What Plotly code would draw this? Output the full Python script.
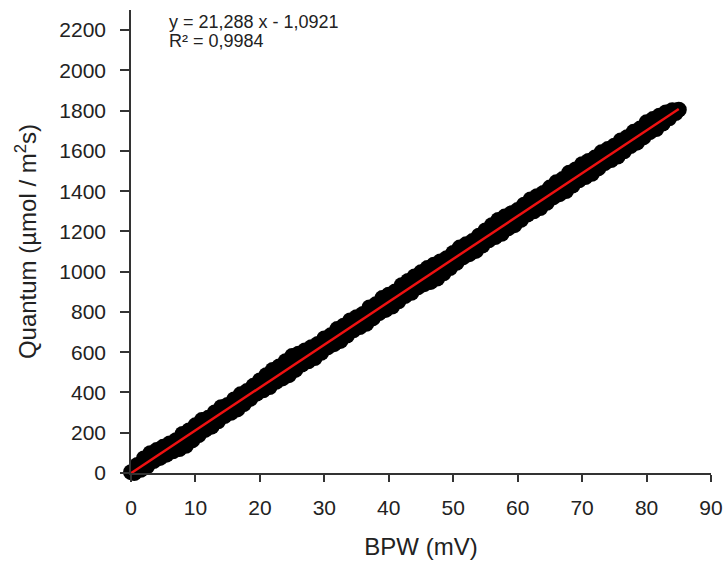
import plotly.graph_objects as go

# Upper-edge points (x = k)
bpw_a = [0, 1, 2, 3, 4, 5, 6, 7, 8, 9, 10, 11, 12, 13, 14, 15, 16, 17, 18, 19,
         20, 21, 22, 23, 24, 25, 26, 27, 28, 29, 30, 31, 32, 33, 34, 35, 36, 37, 38, 39,
         40, 41, 42, 43, 44, 45, 46, 47, 48, 49, 50, 51, 52, 53, 54, 55, 56, 57, 58, 59,
         60, 61, 62, 63, 64, 65, 66, 67, 68, 69, 70, 71, 72, 73, 74, 75, 76, 77, 78, 79,
         80, 81, 82, 83, 84, 85]
quantum_a = [4, 40, 72, 98, 114, 130, 147, 163, 194, 211, 237, 263, 274, 301, 327, 338, 365, 391, 407, 433,
             460, 486, 512, 529, 555, 581, 593, 609, 625, 641, 668, 684, 715, 732, 758, 774, 790, 822, 838, 869,
             886, 902, 933, 954, 976, 997, 1018, 1035, 1051, 1067, 1093, 1120, 1136, 1152, 1179, 1205, 1231, 1257, 1274, 1290,
             1306, 1333, 1359, 1375, 1391, 1418, 1444, 1460, 1492, 1508, 1534, 1550, 1567, 1593, 1609, 1626, 1652, 1668, 1695, 1711,
             1742, 1758, 1775, 1791, 1802, 1805]

# Lower-edge points (x = k + 0.5)
bpw_b = [0.5, 1.5, 2.5, 3.5, 4.5, 5.5, 6.5, 7.5, 8.5, 9.5, 10.5, 11.5, 12.5, 13.5, 14.5, 15.5, 16.5, 17.5, 18.5, 19.5,
         20.5, 21.5, 22.5, 23.5, 24.5, 25.5, 26.5, 27.5, 28.5, 29.5, 30.5, 31.5, 32.5, 33.5, 34.5, 35.5, 36.5, 37.5, 38.5, 39.5,
         40.5, 41.5, 42.5, 43.5, 44.5, 45.5, 46.5, 47.5, 48.5, 49.5, 50.5, 51.5, 52.5, 53.5, 54.5, 55.5, 56.5, 57.5, 58.5, 59.5,
         60.5, 61.5, 62.5, 63.5, 64.5, 65.5, 66.5, 67.5, 68.5, 69.5, 70.5, 71.5, 72.5, 73.5, 74.5, 75.5, 76.5, 77.5, 78.5, 79.5,
         80.5, 81.5, 82.5, 83.5, 84.5]
quantum_b = [0, 16, 33, 59, 75, 91, 108, 119, 135, 162, 188, 214, 230, 257, 283, 299, 316, 342, 368, 394,
             411, 427, 453, 470, 486, 512, 539, 555, 571, 597, 624, 640, 656, 683, 709, 725, 741, 768, 794, 810,
             827, 853, 879, 895, 922, 938, 949, 966, 992, 1018, 1044, 1071, 1087, 1103, 1130, 1156, 1172, 1188, 1215, 1231,
             1257, 1284, 1300, 1316, 1342, 1369, 1385, 1401, 1428, 1454, 1470, 1486, 1513, 1539, 1555, 1572, 1598, 1624, 1641, 1667,
             1693, 1709, 1736, 1762, 1788]

# Regression line endpoints (y = 21,288 x - 1,0921)
fit_x = [0, 85.0]
fit_y = [-1.09, 1808.4]

x_ticks = [0, 10, 20, 30, 40, 50, 60, 70, 80, 90]
y_ticks = [0, 200, 400, 600, 800, 1000, 1200, 1400, 1600, 1800, 2000, 2200]

FONT = "Arial, Liberation Sans, sans-serif"
AX = "#333333"

fig = go.Figure()
marker = dict(color="black", size=16, line=dict(width=0))
fig.add_trace(go.Scatter(x=bpw_a, y=quantum_a, mode="markers", marker=marker, cliponaxis=False, showlegend=False))
fig.add_trace(go.Scatter(x=bpw_b, y=quantum_b, mode="markers", marker=marker, cliponaxis=False, showlegend=False))
fig.add_trace(go.Scatter(x=fit_x, y=fit_y, mode="lines", line=dict(color="#ee1111", width=2.5), cliponaxis=False, showlegend=False))

fig.update_layout(
    width=724, height=563,
    margin=dict(l=131, r=13, t=10, b=90),
    paper_bgcolor="white", plot_bgcolor="white",
    font=dict(family=FONT, color="#222222"),
    xaxis=dict(range=[0, 90], tickvals=x_ticks, showgrid=False, zeroline=False, automargin=False,
               showline=True, linecolor=AX, linewidth=1.5, ticks="outside", ticklen=7,
               tickcolor=AX, tickwidth=1.5, tickfont=dict(size=21), ticklabelstandoff=8,
               title=dict(text="BPW (mV)", font=dict(size=24), standoff=20)),
    yaxis=dict(range=[0, 2300], tickvals=y_ticks, showgrid=False, zeroline=False, automargin=False,
               showline=True, linecolor=AX, linewidth=1.5, ticks="outside", ticklen=9,
               tickcolor=AX, tickwidth=1.5, tickfont=dict(size=21), ticklabelstandoff=10,
               title=dict(text="Quantum (µmol / m<sup>2</sup>s)", font=dict(size=24), standoff=16)),
    annotations=[
        dict(text="y = 21,288 x - 1,0921", xref="paper", yref="paper", x=0.062, y=(473 - 22) / 463,
             xanchor="left", yanchor="middle", showarrow=False, font=dict(size=18)),
        dict(text="R² = 0,9984", xref="paper", yref="paper", x=0.062, y=(473 - 41) / 463,
             xanchor="left", yanchor="middle", showarrow=False, font=dict(size=18)),
    ],
)

fig.write_html("out.html")
